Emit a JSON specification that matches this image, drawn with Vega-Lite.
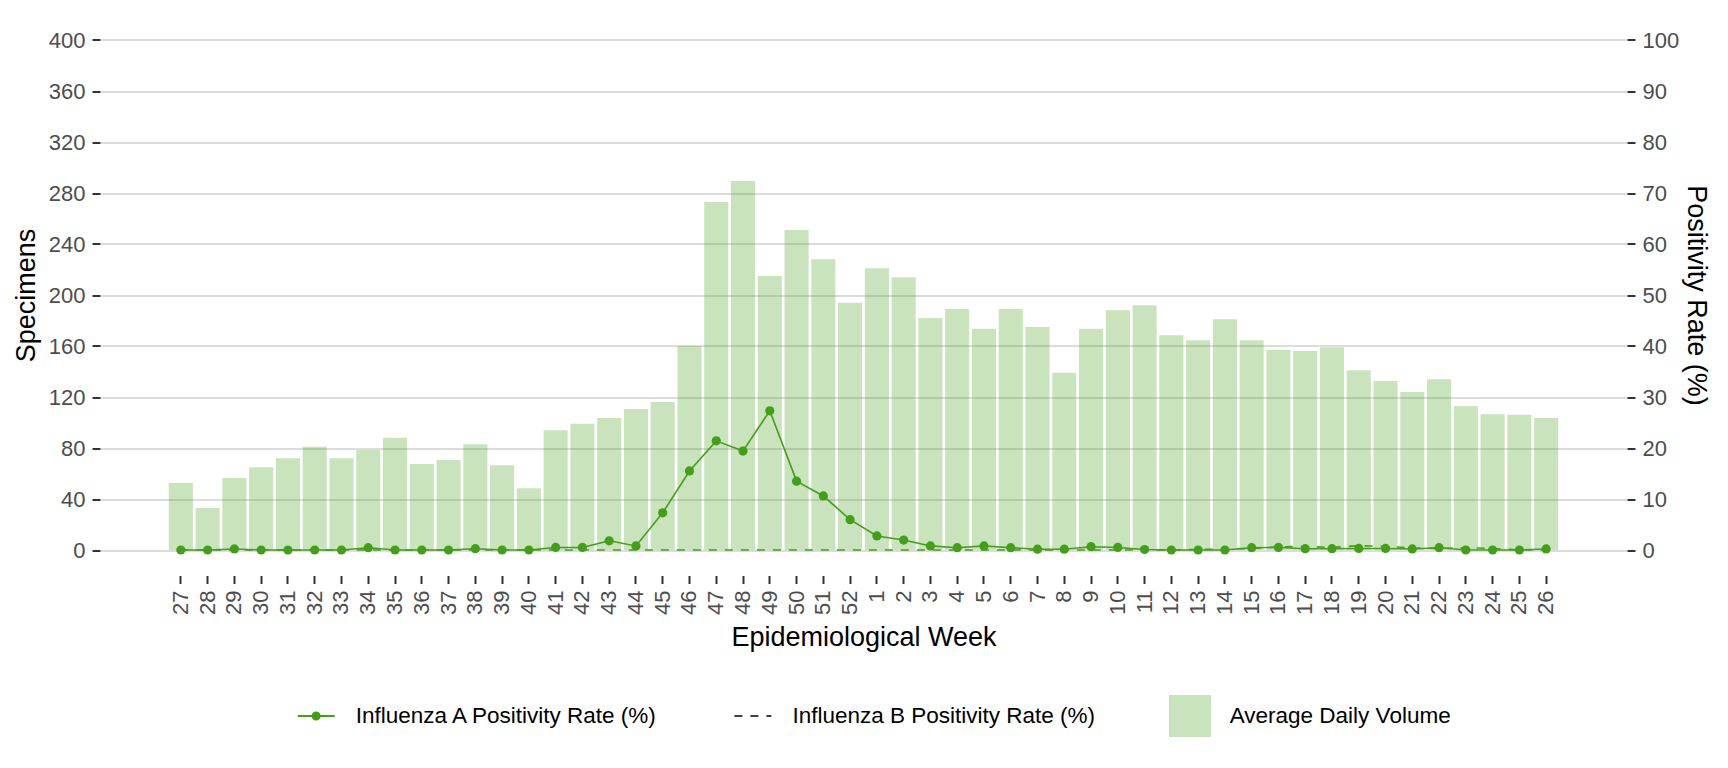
{
  "$schema": "https://vega.github.io/schema/vega-lite/v6.json",
  "width": 1527,
  "height": 561,
  "autosize": {"type": "none"},
  "padding": {"left": 100, "top": 14.5, "right": 101, "bottom": 192.5},
  "background": "white",
  "config": {
    "font": "Liberation Sans",
    "view": {"stroke": null},
    "axis": {
      "domain": false,
      "labelFont": "Liberation Sans",
      "labelFontSize": 22,
      "labelColor": "#4d4d4d",
      "titleFont": "Liberation Sans",
      "titleFontSize": 27,
      "titleFontWeight": "normal",
      "titleColor": "black",
      "tickColor": "#333333",
      "tickSize": 8,
      "tickWidth": 2,
      "labelPadding": 7,
      "gridColor": "#d0d0d0",
      "gridWidth": 1.3
    },
    "legend": {
      "labelFont": "Liberation Sans",
      "labelFontSize": 22.5,
      "labelColor": "black",
      "labelLimit": 600
    }
  },
  "data": {
    "values": [
      {"week": "27", "specimens": 52.5, "fluA": 0, "fluB": 0},
      {"week": "28", "specimens": 33, "fluA": 0, "fluB": 0},
      {"week": "29", "specimens": 56.5, "fluA": 0.2, "fluB": 0},
      {"week": "30", "specimens": 65, "fluA": 0, "fluB": 0},
      {"week": "31", "specimens": 72, "fluA": 0, "fluB": 0},
      {"week": "32", "specimens": 81, "fluA": 0, "fluB": 0},
      {"week": "33", "specimens": 72, "fluA": 0, "fluB": 0},
      {"week": "34", "specimens": 78.5, "fluA": 0.45, "fluB": 0},
      {"week": "35", "specimens": 88, "fluA": 0, "fluB": 0},
      {"week": "36", "specimens": 67.5, "fluA": 0, "fluB": 0},
      {"week": "37", "specimens": 70.5, "fluA": 0, "fluB": 0},
      {"week": "38", "specimens": 83, "fluA": 0.25, "fluB": 0},
      {"week": "39", "specimens": 66.5, "fluA": 0, "fluB": 0},
      {"week": "40", "specimens": 48.5, "fluA": 0, "fluB": 0},
      {"week": "41", "specimens": 94, "fluA": 0.5, "fluB": 0},
      {"week": "42", "specimens": 99, "fluA": 0.5, "fluB": 0},
      {"week": "43", "specimens": 103.5, "fluA": 1.8, "fluB": 0},
      {"week": "44", "specimens": 110.5, "fluA": 0.8, "fluB": 0},
      {"week": "45", "specimens": 116, "fluA": 7.3, "fluB": 0},
      {"week": "46", "specimens": 160, "fluA": 15.5, "fluB": 0},
      {"week": "47", "specimens": 273, "fluA": 21.4, "fluB": 0},
      {"week": "48", "specimens": 289.5, "fluA": 19.4, "fluB": 0},
      {"week": "49", "specimens": 215, "fluA": 27.3, "fluB": 0},
      {"week": "50", "specimens": 251, "fluA": 13.5, "fluB": 0},
      {"week": "51", "specimens": 228, "fluA": 10.6, "fluB": 0},
      {"week": "52", "specimens": 194, "fluA": 5.95, "fluB": 0},
      {"week": "1", "specimens": 221, "fluA": 2.75, "fluB": 0},
      {"week": "2", "specimens": 214, "fluA": 1.95, "fluB": 0},
      {"week": "3", "specimens": 182, "fluA": 0.8, "fluB": 0},
      {"week": "4", "specimens": 189, "fluA": 0.45, "fluB": 0},
      {"week": "5", "specimens": 173.5, "fluA": 0.8, "fluB": 0},
      {"week": "6", "specimens": 189, "fluA": 0.45, "fluB": 0},
      {"week": "7", "specimens": 175, "fluA": 0.15, "fluB": 0},
      {"week": "8", "specimens": 139, "fluA": 0.15, "fluB": 0},
      {"week": "9", "specimens": 173.5, "fluA": 0.65, "fluB": 0},
      {"week": "10", "specimens": 188, "fluA": 0.5, "fluB": 0},
      {"week": "11", "specimens": 192, "fluA": 0.1, "fluB": 0},
      {"week": "12", "specimens": 168.5, "fluA": 0, "fluB": 0},
      {"week": "13", "specimens": 164.5, "fluA": 0, "fluB": 0.1},
      {"week": "14", "specimens": 181, "fluA": 0, "fluB": 0.2},
      {"week": "15", "specimens": 164.5, "fluA": 0.45, "fluB": 0.3},
      {"week": "16", "specimens": 157, "fluA": 0.5, "fluB": 0.6},
      {"week": "17", "specimens": 156, "fluA": 0.25, "fluB": 0.7},
      {"week": "18", "specimens": 159, "fluA": 0.25, "fluB": 0.5},
      {"week": "19", "specimens": 141, "fluA": 0.3, "fluB": 0.85},
      {"week": "20", "specimens": 132.5, "fluA": 0.3, "fluB": 0.7},
      {"week": "21", "specimens": 124, "fluA": 0.2, "fluB": 0.4},
      {"week": "22", "specimens": 134, "fluA": 0.45, "fluB": 0.3},
      {"week": "23", "specimens": 113, "fluA": 0, "fluB": 0.45},
      {"week": "24", "specimens": 106.5, "fluA": 0, "fluB": 0.3},
      {"week": "25", "specimens": 106, "fluA": 0, "fluB": 0},
      {"week": "26", "specimens": 103.5, "fluA": 0.2, "fluB": 0}
    ]
  },
  "encoding": {
    "x": {
      "field": "week",
      "type": "ordinal",
      "sort": null,
      "scale": {
        "domain": ["pad1", "pad2", "27", "28", "29", "30", "31", "32", "33", "34", "35", "36", "37", "38", "39", "40", "41", "42", "43", "44", "45", "46", "47", "48", "49", "50", "51", "52", "1", "2", "3", "4", "5", "6", "7", "8", "9", "10", "11", "12", "13", "14", "15", "16", "17", "18", "19", "20", "21", "22", "23", "24", "25", "26", "pad3", "pad4"],
        "paddingInner": 0.1,
        "paddingOuter": 0.57
      },
      "axis": {
        "title": "Epidemiological Week",
        "values": ["27", "28", "29", "30", "31", "32", "33", "34", "35", "36", "37", "38", "39", "40", "41", "42", "43", "44", "45", "46", "47", "48", "49", "50", "51", "52", "1", "2", "3", "4", "5", "6", "7", "8", "9", "10", "11", "12", "13", "14", "15", "16", "17", "18", "19", "20", "21", "22", "23", "24", "25", "26"],
        "labelAngle": -90,
        "labelPadding": 6.5,
        "titlePadding": 10,
        "grid": false
      }
    }
  },
  "layer": [
    {
      "mark": {"type": "bar", "opacity": 0.285},
      "encoding": {
        "y": {
          "field": "specimens",
          "type": "quantitative",
          "scale": {"domain": [-20, 420], "nice": false, "zero": false},
          "axis": {
            "orient": "left",
            "title": "Specimens",
            "values": [0, 40, 80, 120, 160, 200, 240, 280, 320, 360, 400],
            "grid": true,
            "titlePadding": 8
          }
        },
        "y2": {"datum": 0},
        "fill": {
          "datum": "Average Daily Volume",
          "scale": {"range": ["#41a017"]},
          "legend": {
            "orient": "none",
            "legendX": 1068,
            "legendY": 679.5,
            "title": null,
            "symbolType": "square",
            "symbolSize": 1764,
            "labelOffset": 17.7,
            "encode": {
              "symbols": {
                "update": {
                  "fill": {"value": "#41a017"},
                  "opacity": {"value": 0.285},
                  "stroke": {"value": "transparent"}
                }
              }
            }
          }
        }
      }
    },
    {
      "encoding": {
        "y": {
          "type": "quantitative",
          "scale": {"domain": [-5, 105], "nice": false, "zero": false},
          "axis": {
            "orient": "right",
            "title": "Positivity Rate (%)",
            "values": [0, 10, 20, 30, 40, 50, 60, 70, 80, 90, 100],
            "grid": false,
            "titlePadding": 3
          }
        }
      },
      "layer": [
        {
          "mark": {"type": "line", "strokeWidth": 1.6, "color": "#41a017"},
          "encoding": {
            "y": {"field": "fluB", "type": "quantitative"},
            "strokeDash": {
              "datum": "Influenza B Positivity Rate (%)",
              "scale": {"range": [[8, 8]]},
              "legend": {
                "orient": "none",
                "legendX": 633.4,
                "legendY": 682,
                "title": null,
                "symbolType": "stroke",
                "symbolSize": 1369,
                "symbolStrokeWidth": 1.5,
                "symbolStrokeColor": "black",
                "labelOffset": 20,
                "encode": {
                  "symbols": {
                    "enter": {
                      "stroke": {"value": "black"}
                    },
                    "update": {
                      "stroke": {"value": "black"},
                      "strokeWidth": {"value": 1.5}
                    }
                  }
                }
              }
            }
          }
        },
        {
          "mark": {"type": "line", "strokeWidth": 1.6},
          "encoding": {
            "y": {"field": "fluA", "type": "quantitative"},
            "stroke": {
              "datum": "Influenza A Positivity Rate (%)",
              "scale": {"range": ["#41a017"]},
              "legend": {
                "orient": "none",
                "legendX": 196.7,
                "legendY": 682,
                "title": null,
                "symbolType": "M-1,0H1M-0.19,0A0.19,0.19,0,1,1,0.19,0A0.19,0.19,0,1,1,-0.19,0",
                "symbolSize": 1369,
                "symbolStrokeWidth": 2,
                "labelOffset": 20,
                "encode": {
                  "symbols": {
                    "update": {
                      "fill": {"value": "#41a017"},
                      "stroke": {"value": "#41a017"},
                      "strokeWidth": {"value": 2}
                    }
                  }
                }
              }
            }
          }
        },
        {
          "mark": {"type": "point", "filled": true, "size": 85, "opacity": 1, "color": "#41a017"},
          "encoding": {
            "y": {"field": "fluA", "type": "quantitative"}
          }
        }
      ]
    }
  ],
  "resolve": {"scale": {"y": "independent"}}
}
